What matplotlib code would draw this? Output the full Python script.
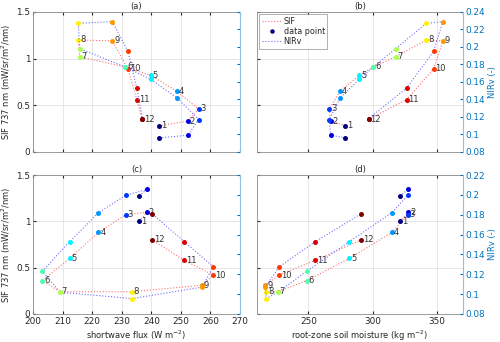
import numpy as np
import matplotlib
matplotlib.use("Agg")
import matplotlib.pyplot as plt
from matplotlib.lines import Line2D

months = list(range(1, 13))

# region 1: panels (a) and (b)
sw_1 = [242.7, 252.4, 256.0, 248.6, 239.8, 231.2, 215.8, 215.3, 226.8, 232.1, 235.1, 237.0]
sm_1 = [278.7, 267.2, 266.1, 274.6, 289.5, 300.3, 317.7, 341.5, 354.4, 347.2, 326.2, 296.7]
sif_1 = [0.28, 0.33, 0.46, 0.65, 0.82, 0.91, 1.02, 1.20, 1.19, 0.89, 0.56, 0.35]
nirv_1 = [0.096, 0.099, 0.117, 0.142, 0.163, 0.177, 0.198, 0.227, 0.229, 0.195, 0.153, 0.118]

# region 2: panels (c) and (d)
sw_2 = [235.9, 238.5, 231.3, 222.1, 212.4, 203.2, 209.1, 233.4, 257.1, 261.0, 251.1, 240.3]
sm_2 = [321.0, 327.4, 327.2, 314.6, 281.8, 248.5, 226.2, 217.2, 216.4, 227.2, 255.4, 290.8]
sif_2 = [1.00, 1.10, 1.07, 0.88, 0.60, 0.36, 0.24, 0.24, 0.31, 0.42, 0.58, 0.80]
nirv_2 = [0.199, 0.2055, 0.1995, 0.182, 0.153, 0.123, 0.102, 0.0955, 0.107, 0.1275, 0.153, 0.181]


def jet12(n=12):
    # matlab style jet(n)
    out = []
    for v in np.linspace(0, 1, n):
        r = np.clip(min(4 * v - 1.5, -4 * v + 4.5), 0, 1)
        g = np.clip(min(4 * v - 0.5, -4 * v + 3.5), 0, 1)
        b = np.clip(min(4 * v + 0.5, -4 * v + 2.5), 0, 1)
        out.append((r, g, b))
    return out


cols = jet12(12)
blue = "#0072BD"
tick_col = "#262626"
red_line = "#ff7070"
blue_line = "#7070ff"
fs_tick = 6.4
fs_lab = 6.0

plt.rcParams["font.family"] = "DejaVu Sans"

fig = plt.figure(figsize=(5.0, 3.42), dpi=100)

pos = {
    "a": [0.066, 0.556, 0.414, 0.409],
    "b": [0.514, 0.556, 0.412, 0.409],
    "c": [0.066, 0.082, 0.414, 0.406],
    "d": [0.514, 0.082, 0.412, 0.406],
}


def panel(key, x, sif, nirv, xlim, xticks, nlim, nticks, left_lab, right_lab, xlab):
    ax = fig.add_axes(pos[key])
    ax2 = ax.twinx()
    ax.set_zorder(1)
    ax2.set_zorder(2)
    ax2.patch.set_visible(False)

    ax.plot(x, sif, ls=":", color=red_line, lw=0.8)
    for i in range(12):
        ax.plot(x[i], sif[i], "o", ms=3.6, mec="none", color=cols[i])
        ax.text(x[i] + 0.9 * (xlim[1] - xlim[0]) / 100, sif[i], str(months[i]),
                fontsize=6.0, color="#333333", va="center", ha="left")
    ax2.plot(x, nirv, ls=":", color=blue_line, lw=0.8)
    for i in range(12):
        ax2.plot(x[i], nirv[i], "o", ms=3.6, mec="none", color=cols[i])

    ax.set_xlim(xlim)
    ax.set_xticks(xticks)
    ax.set_ylim(0, 1.5)
    ax.set_yticks([0, 0.5, 1, 1.5])
    ax.set_yticklabels(["0", "0.5", "1", "1.5"])
    ax.grid(True, color="#e3e3e3", lw=0.6)
    ax.set_axisbelow(True)
    ax.tick_params(direction="in", length=2.5, colors=tick_col, labelsize=fs_tick, pad=2,
                   top=True)
    for s in ["left", "top", "bottom"]:
        ax.spines[s].set_color("#8c8c8c")
        ax.spines[s].set_linewidth(0.6)
    ax.spines["right"].set_visible(False)

    ax2.set_ylim(nlim)
    ax2.set_yticks(nticks)
    ax2.set_yticklabels(["%g" % t for t in nticks])
    ax2.tick_params(direction="in", length=2.5, colors=blue, labelsize=fs_tick, pad=2)
    ax2.spines["right"].set_color("#8ec3e6")
    ax2.spines["right"].set_linewidth(0.8)
    for s in ["left", "top", "bottom"]:
        ax2.spines[s].set_visible(False)

    if left_lab:
        ax.set_ylabel("SIF 737 nm (mW/sr/m$^2$/nm)", fontsize=fs_lab, color=tick_col, labelpad=2)
    else:
        ax.set_yticklabels([])
    if right_lab:
        ax2.set_ylabel("NIRv (-)", fontsize=fs_lab, color=blue, labelpad=2)
    else:
        ax2.set_yticklabels([])
    if xlab:
        ax.set_xlabel(xlab, fontsize=fs_lab, color=tick_col, labelpad=2)
    else:
        ax.set_xticklabels([])
    ax.set_title("(%s)" % key, fontsize=fs_lab, color=tick_col, pad=2)
    return ax, ax2


top_n = [0.08, 0.1, 0.12, 0.14, 0.16, 0.18, 0.2, 0.22, 0.24]
bot_n = [0.08, 0.1, 0.12, 0.14, 0.16, 0.18, 0.2, 0.22]

panel("a", sw_1, sif_1, nirv_1, (200, 270), range(200, 271, 10), (0.08, 0.24), top_n,
      True, False, None)
axb, axb2 = panel("b", sm_1, sif_1, nirv_1, (210, 370), [250, 300, 350], (0.08, 0.24), top_n,
                  False, True, None)
panel("c", sw_2, sif_2, nirv_2, (200, 270), range(200, 271, 10), (0.08, 0.22), bot_n,
      True, False, "shortwave flux (W m$^{-2}$)")
panel("d", sm_2, sif_2, nirv_2, (210, 370), [250, 300, 350], (0.08, 0.22), bot_n,
      False, True, "root-zone soil moisture (kg m$^{-2}$)")

handles = [
    Line2D([], [], ls=":", color=red_line, lw=0.8),
    Line2D([], [], ls="none", marker="o", ms=3.2, mec="none", color=cols[0]),
    Line2D([], [], ls=":", color=blue_line, lw=0.8),
]
leg = axb2.legend(handles, ["SIF", "data point", "NIRv"], loc="upper left", fontsize=5.8,
                  frameon=True, fancybox=False, borderpad=0.3, labelspacing=0.15,
                  handlelength=2.4, handletextpad=0.3, borderaxespad=0.3)
leg.get_frame().set_edgecolor("#8c8c8c")
leg.get_frame().set_linewidth(0.6)
for t in leg.get_texts():
    t.set_color(tick_col)

fig.savefig("out.png", dpi=100)
